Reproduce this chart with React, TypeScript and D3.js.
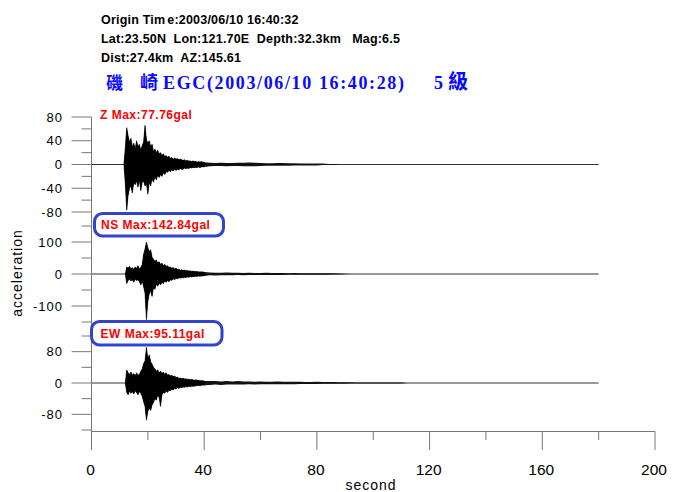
import React from "react";
import * as d3 from "d3";

// ---------- text content ----------
const headerLine1a = "Origin Tim";
const headerLine1b = "e:2003/06/10 16:40:32";
const headerLine2 = "Lat:23.50N  Lon:121.70E  Depth:32.3km   Mag:6.5";
const headerLine3 = "Dist:27.4km  AZ:145.61";
const titleStation = ["磯", "崎"];
const titleCode = "EGC(2003/06/10 16:40:28)";
const titleIntensity = ["5", "級"];

const xLabel = "second";
const yLabel = "acceleration";

// ---------- axes ----------
const xMajorTicks = [0, 40, 80, 120, 160, 200];
const xMinorTicks = [20, 60, 100, 140, 180];
const traceEnd = 180;

const zMajorTicks = [80, 40, 0, -40, -80];
const zMinorTicks = [60, 20, -20, -60];
const nsMajorTicks = [100, 0, -100];
const nsMinorTicks = [150, 50, -50, -150];
const ewMajorTicks = [80, 0, -80];
const ewMinorTicks = [120, 40, -40, -120];

const maxLabels = ["Z Max:77.76gal", "NS Max:142.84gal", "EW Max:95.11gal"];

// ---------- envelope data (gal) ----------
const MAIN_STEP = 0.5;
const TAIL_STEP = 2;

// Z component: main from 11.5 s, tail from 42 s
const zStart = 11.5;
const zHigh = [
  0, 28, 62, 48, 38, 44, 30, 36, 26, 40,
  30, 34, 24, 32, 38, 66, 42, 36, 40, 30,
  34, 22, 26, 20, 24, 18, 20, 15, 18, 13,
  15, 12, 14, 10, 12, 9, 11, 9, 10, 8,
  9, 8, 7, 8, 6, 7, 6, 6, 5, 6,
  5, 5, 4, 5, 4, 5, 4, 4,
];
const zLow = [
  0, -32, -77, -52, -40, -36, -48, -30, -34, -28,
  -38, -26, -44, -30, -28, -36, -32, -50, -30, -36,
  -24, -30, -20, -26, -18, -22, -17, -20, -14, -17,
  -12, -13, -10, -12, -9, -11, -8, -10, -8, -9,
  -7, -8, -8, -6, -7, -6, -7, -5, -6, -5,
  -5, -5, -5, -4, -5, -4, -4, -4,
];
const zTailStart = 42;
const zTailHigh = [3, 2.5, 3, 2.5, 2.5, 3, 3, 3.5, 3, 2.5, 2, 2, 2.5, 2.5, 2, 2, 1.5, 1.5, 1.5, 1.5, 1.5, 1, 1, 0];
const zTailLow = [-3, -2.5, -2.5, -3, -2.5, -2.5, -3, -3, -3, -2.5, -2, -2, -2, -2, -2, -1.5, -1.5, -1.5, -1.5, -1.5, -1, -1, -1, 0];

// NS component
const nsStart = 12;
const nsHigh = [
  0, 22, 18, 24, 16, 20, 14, 22, 18, 26,
  16, 20, 30, 62, 78, 100, 82, 70, 76, 52,
  46, 40, 44, 34, 38, 30, 34, 26, 30, 24,
  26, 20, 22, 18, 20, 16, 18, 14, 15, 12,
  13, 11, 12, 10, 11, 9, 10, 8, 9, 8,
  8, 7, 7, 6, 7, 6, 6,
];
const nsLow = [
  0, -30, -20, -16, -22, -18, -26, -16, -20, -18,
  -24, -34, -22, -40, -60, -143, -86, -62, -54, -70,
  -42, -48, -32, -38, -28, -34, -26, -30, -22, -26,
  -20, -24, -18, -20, -15, -18, -13, -15, -12, -13,
  -11, -12, -10, -11, -9, -10, -8, -9, -8, -8,
  -7, -8, -6, -7, -6, -6, -6,
];
const nsTailStart = 42;
const nsTailHigh = [5, 4, 4, 5, 4, 4, 3.5, 4, 3.5, 3.5, 4, 3.5, 3, 3, 2.5, 3, 2.5, 2.5, 2.5, 2.5, 2, 2, 2, 1.5, 1, 0];
const nsTailLow = [-4, -5, -4, -4, -4, -3.5, -4, -3.5, -3.5, -3, -3.5, -3, -3, -3, -2.5, -2.5, -2.5, -2.5, -2, -2, -2, -2, -1.5, -1.5, -1, 0];

// EW component
const ewStart = 12;
const ewHigh = [
  0, 33, 26, 22, 28, 20, 24, 18, 26, 20,
  22, 30, 36, 50, 56, 91, 62, 72, 54, 48,
  40, 36, 30, 34, 26, 30, 24, 28, 22, 26,
  20, 22, 18, 20, 16, 18, 14, 15, 12, 13,
  11, 12, 10, 11, 9, 10, 8, 9, 8, 7,
  8, 7, 7, 6, 6, 6, 5,
];
const ewLow = [
  0, -24, -30, -20, -26, -22, -28, -20, -24, -30,
  -22, -26, -34, -48, -60, -95, -72, -64, -70, -56,
  -50, -40, -44, -32, -36, -60, -30, -24, -26, -20,
  -24, -18, -20, -16, -18, -14, -15, -12, -14, -11,
  -12, -10, -11, -9, -10, -8, -9, -8, -8, -8,
  -7, -7, -6, -7, -6, -5, -6,
];
const ewTailStart = 42;
const ewTailHigh = [5, 5, 4, 5, 4, 5, 4, 4, 3.5, 4, 3.5, 3.5, 4, 3.5, 3, 3, 3, 2.5, 2.5, 3, 2.5, 2.5, 2.5, 2, 2, 2, 1.5, 1.5, 1.5, 1.5, 1, 1.5, 1, 1, 1, 0];
const ewTailLow = [-5, -4, -5, -4, -4, -4, -4, -3.5, -4, -3.5, -3.5, -3, -3, -3, -3, -3, -2.5, -2.5, -2.5, -2.5, -2, -2, -2, -2, -2, -1.5, -1.5, -1.5, -1, -1.5, -1, -1, -1, -1, -1, 0];

type Pt = { t: number; hi: number; lo: number };

function envelope(start: number, step: number, hi: number[], lo: number[]): Pt[] {
  return hi.map((h, i) => ({ t: start + i * step, hi: h, lo: lo[i] }));
}

const SANS = "'Liberation Sans', Arial, sans-serif";
const SERIF = "'Liberation Serif', 'Times New Roman', serif";
const CJK = "'Noto Sans CJK TC', 'Noto Sans CJK SC', sans-serif";
const AXIS = "#777";

export default function App() {
  const x = d3.scaleLinear().domain([0, 200]).range([91.5, 655]);

  const panels = [
    {
      y: d3.scaleLinear().domain([-80, 80]).range([212, 117]),
      main: envelope(zStart, MAIN_STEP, zHigh, zLow),
      tail: envelope(zTailStart, TAIL_STEP, zTailHigh, zTailLow),
      major: zMajorTicks,
      minor: zMinorTicks,
    },
    {
      y: d3.scaleLinear().domain([-150, 150]).range([322, 226]),
      main: envelope(nsStart, MAIN_STEP, nsHigh, nsLow),
      tail: envelope(nsTailStart, TAIL_STEP, nsTailHigh, nsTailLow),
      major: nsMajorTicks,
      minor: nsMinorTicks,
    },
    {
      y: d3.scaleLinear().domain([-120, 120]).range([430, 336]),
      main: envelope(ewStart, MAIN_STEP, ewHigh, ewLow),
      tail: envelope(ewTailStart, TAIL_STEP, ewTailHigh, ewTailLow),
      major: ewMajorTicks,
      minor: ewMinorTicks,
    },
  ];

  const axisY = 431.5;
  const axisX = x(0);

  return (
    <svg
      width={676}
      height={492}
      viewBox="0 0 676 492"
      style={{ position: "absolute", left: 0, top: 0, background: "#fff" }}
    >
      <rect x={0} y={0} width={676} height={492} fill="#fff" />

      {/* header */}
      <g fontFamily={SANS} fontWeight="bold" fontSize={12.5} fill="#000" letterSpacing={0.2}>
        <text x={101} y={23.5} xmlSpace="preserve" style={{ whiteSpace: "pre" }}>
          <tspan>{headerLine1a}</tspan>
          <tspan dx={2}>{headerLine1b}</tspan>
        </text>
        <text x={101} y={42.5} xmlSpace="preserve" style={{ whiteSpace: "pre" }}>{headerLine2}</text>
        <text x={101} y={61.5} xmlSpace="preserve" style={{ whiteSpace: "pre" }}>{headerLine3}</text>
      </g>

      {/* title */}
      <g fill="#0a0aff" fontWeight="bold">
        <text x={106} y={89} fontFamily={CJK} fontSize={17}>{titleStation[0]}</text>
        <text x={140} y={89} fontFamily={CJK} fontSize={18}>{titleStation[1]}</text>
        <text x={163} y={88.5} fontFamily={SERIF} fontSize={18} textLength={241} lengthAdjust="spacing">{titleCode}</text>
        <text x={434} y={88.5} fontFamily={SERIF} fontSize={18}>{titleIntensity[0]}</text>
        <text x={448} y={89} fontFamily={CJK} fontSize={20}>{titleIntensity[1]}</text>
      </g>

      {/* zero lines and traces */}
      {panels.map((p, i) => {
        const area = d3
          .area<Pt>()
          .x((d) => x(d.t))
          .y0((d) => p.y(d.lo))
          .y1((d) => p.y(d.hi));
        const joined = p.main.concat(p.tail);
        return (
          <g key={"tr" + i}>
            <line x1={x(0)} x2={x(traceEnd)} y1={p.y(0)} y2={p.y(0)} stroke="#333" strokeWidth={1} />
            <path d={area(joined) || ""} fill="#111" />
            <path d={area(p.main) || ""} fill="#000" stroke="#000" strokeWidth={0.6} />
          </g>
        );
      })}

      {/* y axis */}
      <line x1={axisX} x2={axisX} y1={117} y2={450} stroke={AXIS} strokeWidth={1} />
      {panels.map((p, i) => (
        <g key={"ya" + i}>
          {p.major.map((v) => (
            <line key={"M" + v} x1={axisX - 20} x2={axisX} y1={p.y(v)} y2={p.y(v)} stroke={AXIS} />
          ))}
          {p.minor.map((v) => (
            <line key={"m" + v} x1={axisX - 10} x2={axisX} y1={p.y(v)} y2={p.y(v)} stroke={AXIS} />
          ))}
          {p.major.map((v) => (
            <text
              key={"t" + v}
              x={63}
              y={p.y(v)}
              dy="0.35em"
              textAnchor="end"
              fontFamily={SANS}
              fontSize={13}
              letterSpacing={1}
              fill="#000"
            >
              {v}
            </text>
          ))}
        </g>
      ))}

      {/* x axis */}
      <line x1={axisX} x2={x(200)} y1={axisY} y2={axisY} stroke={AXIS} />
      {xMajorTicks.map((v) => (
        <g key={"xM" + v}>
          <line x1={x(v)} x2={x(v)} y1={axisY} y2={450} stroke={AXIS} />
          <text x={x(v) - 1} y={475} textAnchor="middle" fontFamily={SANS} fontSize={15.5} fill="#000">
            {v}
          </text>
        </g>
      ))}
      {xMinorTicks.map((v) => (
        <line key={"xm" + v} x1={x(v)} x2={x(v)} y1={axisY} y2={440} stroke={AXIS} />
      ))}

      {/* axis titles */}
      <text x={371} y={489.5} textAnchor="middle" fontFamily={SANS} fontSize={14} letterSpacing={1} fill="#000">
        {xLabel}
      </text>
      <text
        transform="translate(22,273) rotate(-90)"
        textAnchor="middle"
        fontFamily={SANS}
        fontSize={14}
        letterSpacing={1}
        fill="#000"
      >
        {yLabel}
      </text>

      {/* max labels */}
      <g fontFamily={SANS} fontWeight="bold" fontSize={12} letterSpacing={0.5} fill="#ff0000">
        <text x={100} y={119}>{maxLabels[0]}</text>
        <rect x={94.5} y={213.5} width={129} height={22.5} rx={8} fill="#fff" stroke="#3344cc" strokeWidth={3} />
        <text x={101} y={229}>{maxLabels[1]}</text>
        <rect x={91.5} y={321.5} width={130.5} height={23.5} rx={8} fill="#fff" stroke="#3344cc" strokeWidth={3} />
        <text x={100.5} y={338}>{maxLabels[2]}</text>
      </g>
    </svg>
  );
}
